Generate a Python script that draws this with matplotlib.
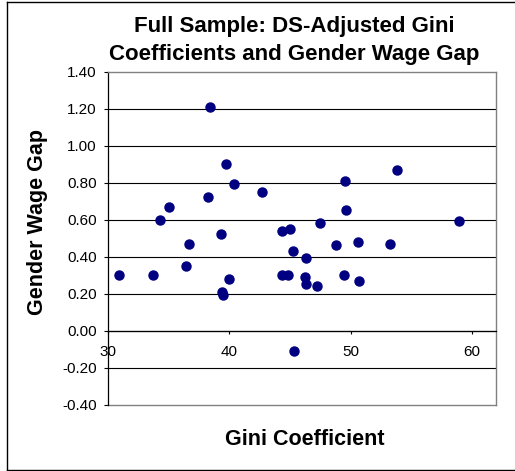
import numpy as np
import matplotlib
matplotlib.use('Agg')
import matplotlib.pyplot as plt
from matplotlib.lines import Line2D

plt.rcParams['font.family'] = ['Liberation Sans', 'DejaVu Sans']

# Gini coefficient (x) and gender wage gap (y)
gini = [30.9, 33.7, 34.3, 35.0, 36.4, 36.7, 38.2, 38.4, 39.3, 39.4,
        39.5, 39.7, 40.0, 40.4, 42.7, 44.3, 44.3, 44.8, 45.0, 45.2,
        45.3, 46.2, 46.3, 46.3, 47.2, 47.5, 48.8, 49.4, 49.5, 49.6,
        50.6, 50.7, 53.2, 53.8, 58.9]
gap = [0.30, 0.30, 0.60, 0.67, 0.35, 0.47, 0.72, 1.21, 0.52, 0.21,
       0.19, 0.90, 0.28, 0.79, 0.75, 0.54, 0.30, 0.30, 0.55, 0.43,
       -0.11, 0.29, 0.39, 0.25, 0.24, 0.58, 0.46, 0.30, 0.81, 0.65,
       0.48, 0.27, 0.47, 0.87, 0.59]

x_ticks = [30, 40, 50, 60]
y_ticks = np.round(np.arange(-0.4, 1.41, 0.2), 2)

W, H = 515, 471
fig = plt.figure(figsize=(W / 100, H / 100), dpi=100)
ax = fig.add_axes([108 / W, 1 - 404.5 / H, (496.5 - 108) / W, (404.5 - 71.7) / H])

ax.set_xlim(30, 62)
ax.set_ylim(-0.4, 1.4)

# gridlines
for v in y_ticks[1:-1]:
    ax.axhline(v, color='black', lw=0.8, zorder=1)

ax.plot(gini, gap, 'o', color='#000080', ms=6.5, mec='#000080', zorder=3, clip_on=False)

# spines
for s in ['top', 'right']:
    ax.spines[s].set_color('#808080')
    ax.spines[s].set_linewidth(1.0)
ax.spines['left'].set_color('black')
ax.spines['left'].set_linewidth(0.9)
ax.spines['bottom'].set_position(('data', 0))
ax.spines['bottom'].set_color('black')
ax.spines['bottom'].set_linewidth(0.9)
ax.axhline(-0.4, color='#808080', lw=1.0, zorder=2, clip_on=False)

ax.set_xticks(x_ticks)
ax.set_xticklabels([str(t) for t in x_ticks])
ax.set_yticks(y_ticks)
ax.set_yticklabels([f'{t:.2f}' for t in y_ticks])
ax.tick_params(axis='x', direction='out', length=2.5, width=0.8, pad=8, labelsize=11)
ax.tick_params(axis='y', direction='out', length=3, width=0.8, pad=5, labelsize=11)

# titles and labels
fig.text(294 / W, 1 - 32 / H, 'Full Sample: DS-Adjusted Gini', ha='center', va='baseline',
         fontsize=16, fontweight='bold')
fig.text(294 / W, 1 - 60 / H, 'Coefficients and Gender Wage Gap', ha='center', va='baseline',
         fontsize=16, fontweight='bold')
fig.text(305 / W, 1 - 445 / H, 'Gini Coefficient', ha='center', va='baseline',
         fontsize=15.5, fontweight='bold')
fig.text(38 / W, 1 - 222 / H, 'Gender Wage Gap', ha='center', va='center', rotation=90,
         fontsize=15.5, fontweight='bold')

# chart area border
bx0, bx1, by0, by1 = 7 / W, 1.05, 1 - 470 / H, 1 - 2 / H
for xs, ys in [([bx0, bx0], [by0, by1]), ([bx0, bx1], [by1, by1]), ([bx0, bx1], [by0, by0])]:
    fig.add_artist(Line2D(xs, ys, color='black', lw=1.0, transform=fig.transFigure))

fig.savefig('out.png', dpi=100)
